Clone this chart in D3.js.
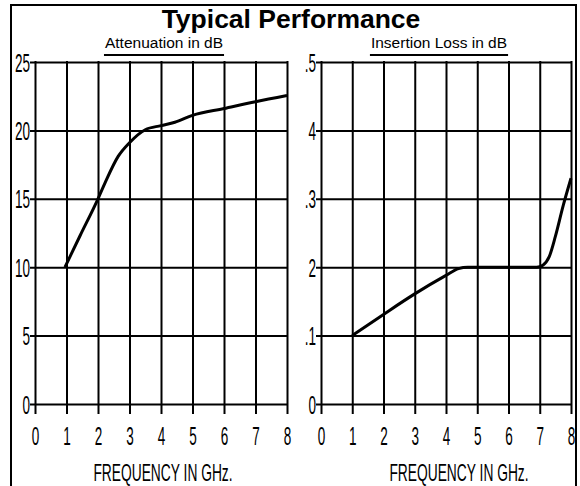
<!DOCTYPE html>
<html>
<head>
<meta charset="utf-8">
<script src="https://cdn.jsdelivr.net/npm/d3@7"></script>
<style>
  body { margin: 0; background: #fff; }
  svg { display: block; }
</style>
</head>
<body>
<svg id="chart" width="580" height="486"></svg>
<script>
// frequency ticks shared by both panels
const freqTicks = [0, 1, 2, 3, 4, 5, 6, 7, 8];

// attenuation panel
const attenTicks = [0, 5, 10, 15, 20, 25];
const attenLabels = ["0", "5", "10", "15", "20", "25"];
const attenFreq = [0.95, 1.43, 2, 2.22, 2.64, 3, 3.5, 4, 4.44, 5, 6, 7, 8];
const attenDb = [10, 12.3, 15.0, 16.15, 18.1, 19.1, 20.05, 20.35, 20.6, 21.1, 21.6, 22.1, 22.55];

// insertion loss panel (tick labels as printed on the original sheet)
const lossTicks = [0, 0.1, 0.2, 0.3, 0.4, 0.5];
const lossLabels = ["0", ".1", "2", ".3", "4", ".5"];
const lossFreq = [1, 2, 3, 4, 4.4, 4.7, 5, 6, 6.9, 7.1, 7.3, 7.5, 7.75, 8];
const lossDb = [0.1, 0.131, 0.161, 0.188, 0.198, 0.2, 0.2, 0.2, 0.2, 0.203, 0.215, 0.245, 0.29, 0.33];

const svg = d3.select("#chart");
const plotTop = 62, plotBottom = 404;
const narrow = "'Liberation Sans', Arial, sans-serif";

// frame round the whole sheet
svg.append("rect")
    .attr("x", 11).attr("y", 5)
    .attr("width", 565).attr("height", 520)
    .attr("fill", "none").attr("stroke", "#000").attr("stroke-width", 2);

svg.append("text")
    .attr("x", 291).attr("y", 28)
    .attr("text-anchor", "middle")
    .attr("font-family", "'Liberation Sans', Arial, sans-serif")
    .attr("font-weight", "bold").attr("font-size", 26.5)
    .text("Typical Performance");

const panel = (cfg) => {
    const x = d3.scaleLinear().domain([0, 8]).range([cfg.left, cfg.right]);
    const y = d3.scaleLinear().domain(cfg.yDomain).range([plotBottom, plotTop]);
    const g = svg.append("g");

    // vertical grid + ticks below the base line
    const gx = g.append("g")
        .attr("transform", `translate(0,${plotBottom + 9})`)
        .call(d3.axisBottom(x).tickValues(freqTicks).tickSize(-(plotBottom + 9 - plotTop)).tickFormat(d3.format("d")));
    gx.select(".domain").remove();
    gx.selectAll(".tick line").attr("stroke", "#000").attr("stroke-width", 2).attr("stroke-linecap", "square");
    gx.selectAll(".tick text")
        .attr("y", null).attr("dy", null)
        .attr("transform", "translate(0,32) scale(0.52,1)")
        .attr("font-family", narrow).attr("font-size", 26).attr("fill", "#000");

    // horizontal grid + ticks left of the axis
    const gy = g.append("g")
        .attr("transform", `translate(${cfg.left - 4},0)`)
        .call(d3.axisLeft(y).tickValues(cfg.yTicks).tickSize(-(cfg.right - cfg.left + 4))
            .tickFormat((d, i) => cfg.yLabels[i]));
    gy.select(".domain").remove();
    gy.selectAll(".tick line").attr("stroke", "#000").attr("stroke-width", 2).attr("stroke-linecap", "square");
    gy.selectAll(".tick text")
        .attr("x", null).attr("dy", null)
        .attr("transform", "translate(-1,9) scale(0.52,1)")
        .attr("text-anchor", "end")
        .attr("font-family", narrow).attr("font-size", 26).attr("fill", "#000");

    // subtitle with underline
    const sub = g.append("text")
        .attr("x", cfg.subX).attr("y", 48)
        .attr("text-anchor", "middle")
        .attr("font-family", "'Liberation Sans', Arial, sans-serif")
        .attr("font-size", 15.5)
        .text(cfg.subtitle);
    const w = sub.node().getComputedTextLength();
    g.append("line")
        .attr("x1", cfg.subX - w / 2 - 1).attr("x2", cfg.subX + w / 2 + 1)
        .attr("y1", 55).attr("y2", 55)
        .attr("stroke", "#000").attr("stroke-width", 2);

    g.append("text")
        .attr("transform", `translate(${cfg.axisX},481) scale(0.6,1)`)
        .attr("text-anchor", "middle")
        .attr("font-family", narrow).attr("font-size", 23)
        .text("FREQUENCY IN GHz.");

    const pts = cfg.xs.map((f, i) => [f, cfg.ys[i]]);
    g.append("path")
        .datum(pts)
        .attr("fill", "none").attr("stroke", "#000").attr("stroke-width", 3)
        .attr("stroke-linejoin", "round")
        .attr("d", d3.line().x((d) => x(d[0])).y((d) => y(d[1])).curve(d3.curveMonotoneX));
};

panel({
    left: 35, right: 287, yDomain: [0, 25], yTicks: attenTicks, yLabels: attenLabels,
    subtitle: "Attenuation in dB", subX: 164, axisX: 163, xs: attenFreq, ys: attenDb
});
panel({
    left: 321, right: 571, yDomain: [0, 0.5], yTicks: lossTicks, yLabels: lossLabels,
    subtitle: "Insertion Loss in dB", subX: 439, axisX: 459, xs: lossFreq, ys: lossDb
});
</script>
</body>
</html>
